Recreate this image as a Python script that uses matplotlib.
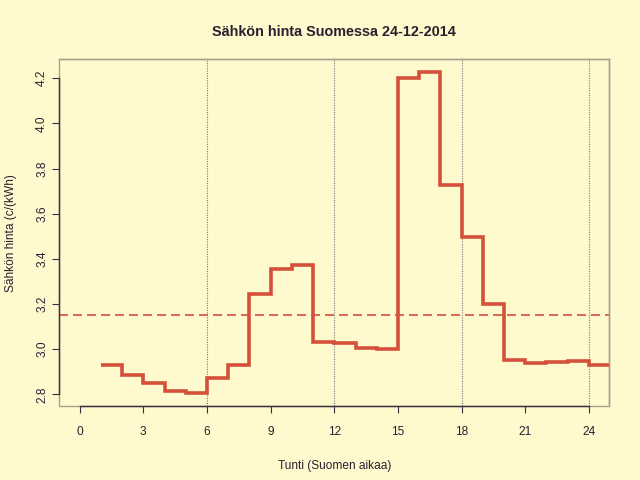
import numpy as np
import matplotlib.pyplot as plt

plt.rcParams['font.family'] = ['Liberation Sans', 'DejaVu Sans']

# hourly spot price, c/kWh, hours 1..24 (each step lasts one hour)
hours = list(range(1, 26))
price = [2.930, 2.884, 2.849, 2.813, 2.804, 2.871, 2.930, 3.244,
         3.357, 3.371, 3.033, 3.026, 3.006, 3.001, 4.201, 4.228,
         3.726, 3.498, 3.199, 2.953, 2.940, 2.942, 2.946, 2.930]
xticks = [0, 3, 6, 9, 12, 15, 18, 21, 24]
yticks = [2.8, 3.0, 3.2, 3.4, 3.6, 3.8, 4.0, 4.2]
vlines = [6, 12, 18, 24]

bg = '#FFFACD'
red = '#D4503A'
dark = '#3A3040'
boxc = '#A8A08C'

fig = plt.figure(figsize=(6.4, 4.8), dpi=100, facecolor=bg)
ax = fig.add_axes([0.0927, 0.154, 0.8593, 0.7225], facecolor=bg)

for v in vlines:
    ax.axvline(v, color='#777777', lw=0.8, ls=(0, (1, 1.2)), zorder=1)

ax.stairs(price, hours, baseline=None, color=red, lw=2.6, zorder=3)
ax.axhline(np.mean(price), color=red, lw=1.2, dashes=(5.4, 3.0), zorder=2)

ax.set_xlim(-0.96, 24.96)
ax.set_ylim(2.748, 4.284)

for s in ax.spines.values():
    s.set_color(boxc)
    s.set_linewidth(1.0)
ax.spines['bottom'].set_bounds(0, 24)
ax.spines['left'].set_bounds(2.8, 4.2)
ax.spines['bottom'].set_color(dark)
ax.spines['left'].set_color(dark)
ax.add_patch(plt.Rectangle((0, 0), 1, 1, transform=ax.transAxes, fill=False,
                           edgecolor=boxc, lw=1.0, zorder=0.5, clip_on=False))

ax.set_xticks(xticks)
ax.set_xticklabels([str(t) for t in xticks])
ax.set_yticks(yticks)
ax.set_yticklabels([f'{t:.1f}' for t in yticks], rotation=90, va='center')
ax.tick_params(axis='both', length=5, width=0.8, color=dark, labelcolor='#2A2030',
               labelsize=8.6, direction='out')
ax.tick_params(axis='x', pad=9)
ax.tick_params(axis='y', pad=3)

ax.set_xlabel('Tunti (Suomen aikaa)', fontsize=8.6, color='#2A2030', labelpad=16)
ax.set_ylabel('Sähkön hinta (c/(kWh)', fontsize=8.6, color='#2A2030', labelpad=14)
ax.set_title('Sähkön hinta Suomessa 24-12-2014', fontsize=10.4, fontweight='bold',
             color='#2A2030', pad=17)

plt.savefig('out.png', dpi=100, facecolor=bg)
